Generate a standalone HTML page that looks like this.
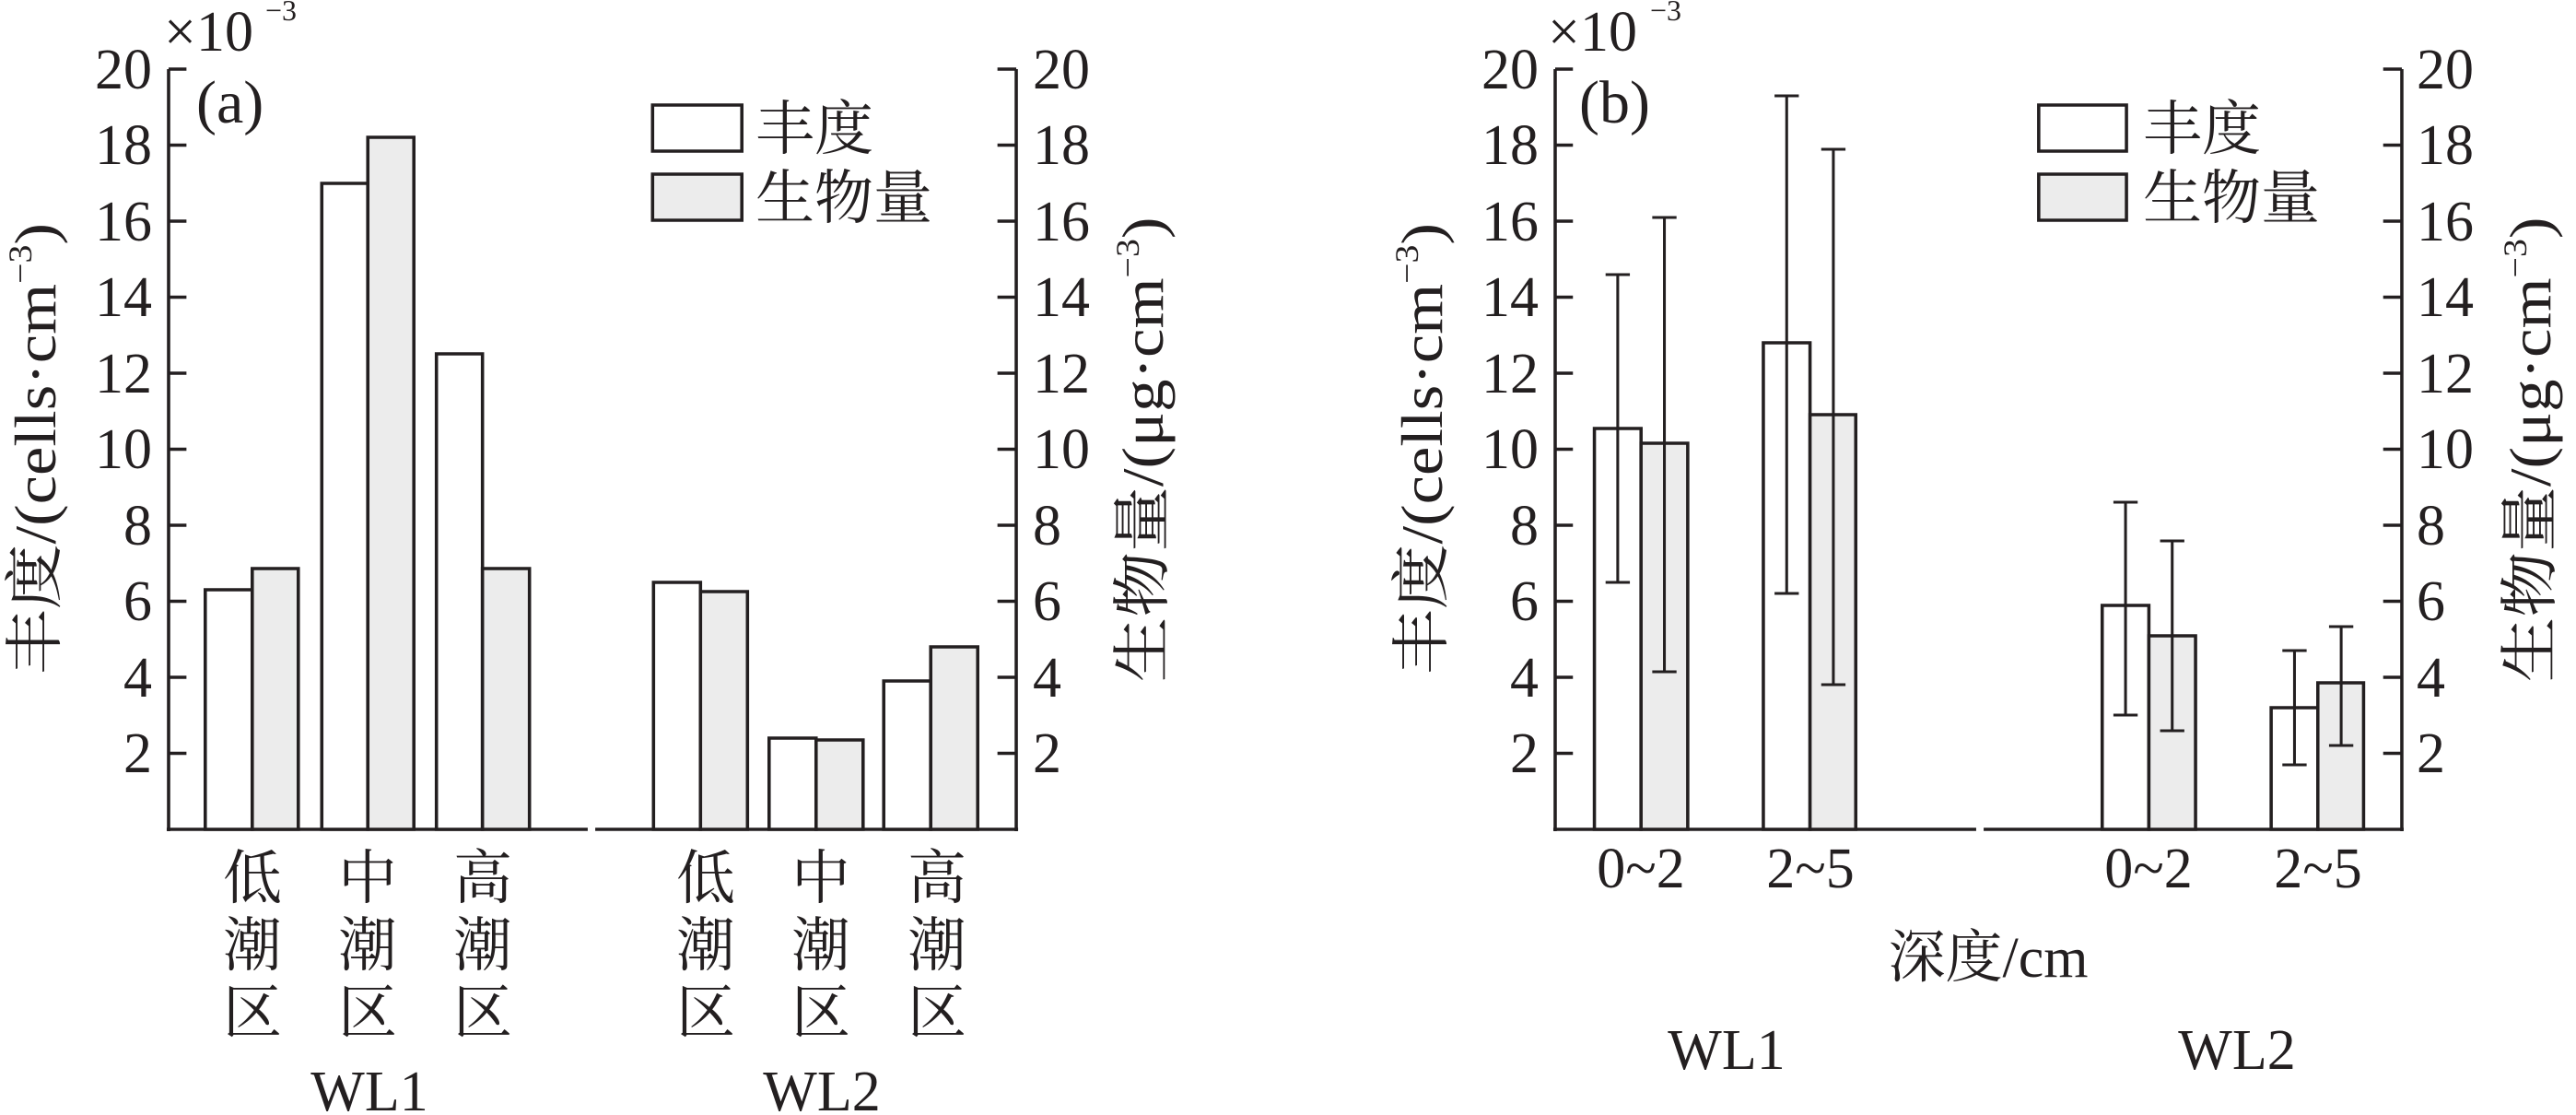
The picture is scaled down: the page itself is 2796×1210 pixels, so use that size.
<!DOCTYPE html>
<html><head><meta charset="utf-8"><style>
html,body{margin:0;padding:0;background:#fff;}
svg{display:block;}
text{font-family:"Liberation Serif","Noto Serif CJK SC",serif;fill:#231f20;}
</style></head><body>
<svg width="2796" height="1210" viewBox="0 0 2796 1210" xmlns="http://www.w3.org/2000/svg">
<!-- Panel a shapes -->
<g transform="translate(183,0) scale(1.02,1) translate(-180,0)">
<g stroke="#231f20" stroke-width="3.5" fill="none">
<line x1="180" y1="75" x2="180" y2="902"/>
<line x1="1082" y1="75" x2="1082" y2="902"/>
<line x1="178" y1="900" x2="626" y2="900"/>
<line x1="634" y1="900" x2="1084" y2="900"/>
</g>
<g stroke="#231f20" stroke-width="3.5">
<line x1="180" y1="75" x2="199" y2="75"/><line x1="180" y1="157.5" x2="199" y2="157.5"/><line x1="180" y1="240" x2="199" y2="240"/><line x1="180" y1="322.5" x2="199" y2="322.5"/><line x1="180" y1="405" x2="199" y2="405"/><line x1="180" y1="487.5" x2="199" y2="487.5"/><line x1="180" y1="570" x2="199" y2="570"/><line x1="180" y1="652.5" x2="199" y2="652.5"/><line x1="180" y1="735" x2="199" y2="735"/><line x1="180" y1="817.5" x2="199" y2="817.5"/>
<line x1="1062" y1="75" x2="1082" y2="75"/><line x1="1062" y1="157.5" x2="1082" y2="157.5"/><line x1="1062" y1="240" x2="1082" y2="240"/><line x1="1062" y1="322.5" x2="1082" y2="322.5"/><line x1="1062" y1="405" x2="1082" y2="405"/><line x1="1062" y1="487.5" x2="1082" y2="487.5"/><line x1="1062" y1="570" x2="1082" y2="570"/><line x1="1062" y1="652.5" x2="1082" y2="652.5"/><line x1="1062" y1="735" x2="1082" y2="735"/><line x1="1062" y1="817.5" x2="1082" y2="817.5"/>
<rect x="219" y="640" width="50" height="260" fill="#fff"/>
<rect x="269" y="617" width="49" height="283" fill="#ececec"/>
<rect x="343" y="199" width="49" height="701" fill="#fff"/>
<rect x="392" y="149" width="49" height="751" fill="#ececec"/>
<rect x="465" y="384" width="49" height="516" fill="#fff"/>
<rect x="514" y="617" width="50" height="283" fill="#ececec"/>
<rect x="696" y="632" width="50" height="268" fill="#fff"/>
<rect x="746" y="642" width="50" height="258" fill="#ececec"/>
<rect x="819" y="801" width="50" height="99" fill="#fff"/>
<rect x="869" y="803" width="50" height="97" fill="#ececec"/>
<rect x="941" y="739" width="50" height="161" fill="#fff"/>
<rect x="991" y="702" width="50" height="198" fill="#ececec"/>
<rect x="695" y="114" width="95" height="50" fill="#fff"/>
<rect x="695" y="189" width="95" height="50" fill="#ececec"/>
</g>
</g>
<!-- Panel b shapes -->
<g transform="translate(1688,0) scale(1.0132,1) translate(-1680,0)">
<g stroke="#231f20" stroke-width="3.5" fill="none">
<line x1="1680" y1="75" x2="1680" y2="902"/>
<line x1="2587" y1="75" x2="2587" y2="902"/>
<line x1="1678" y1="900" x2="2131" y2="900"/>
<line x1="2139" y1="900" x2="2589" y2="900"/>
</g>
<g stroke="#231f20" stroke-width="3.5">
<line x1="1680" y1="75" x2="1699" y2="75"/><line x1="1680" y1="157.5" x2="1699" y2="157.5"/><line x1="1680" y1="240" x2="1699" y2="240"/><line x1="1680" y1="322.5" x2="1699" y2="322.5"/><line x1="1680" y1="405" x2="1699" y2="405"/><line x1="1680" y1="487.5" x2="1699" y2="487.5"/><line x1="1680" y1="570" x2="1699" y2="570"/><line x1="1680" y1="652.5" x2="1699" y2="652.5"/><line x1="1680" y1="735" x2="1699" y2="735"/><line x1="1680" y1="817.5" x2="1699" y2="817.5"/>
<line x1="2567" y1="75" x2="2587" y2="75"/><line x1="2567" y1="157.5" x2="2587" y2="157.5"/><line x1="2567" y1="240" x2="2587" y2="240"/><line x1="2567" y1="322.5" x2="2587" y2="322.5"/><line x1="2567" y1="405" x2="2587" y2="405"/><line x1="2567" y1="487.5" x2="2587" y2="487.5"/><line x1="2567" y1="570" x2="2587" y2="570"/><line x1="2567" y1="652.5" x2="2587" y2="652.5"/><line x1="2567" y1="735" x2="2587" y2="735"/><line x1="2567" y1="817.5" x2="2587" y2="817.5"/>
<rect x="1722" y="465" width="50" height="435" fill="#fff"/>
<rect x="1772" y="481" width="50" height="419" fill="#ececec"/>
<rect x="1903" y="372" width="50" height="528" fill="#fff"/>
<rect x="1953" y="450" width="49" height="450" fill="#ececec"/>
<rect x="2266" y="657" width="50" height="243" fill="#fff"/>
<rect x="2316" y="690" width="50" height="210" fill="#ececec"/>
<rect x="2447" y="768" width="50" height="132" fill="#fff"/>
<rect x="2497" y="741" width="49" height="159" fill="#ececec"/>
<rect x="2198" y="114" width="94" height="50" fill="#fff"/>
<rect x="2198" y="189" width="94" height="50" fill="#ececec"/>
</g>
<g stroke="#231f20" stroke-width="3">
<line x1="1747" y1="298" x2="1747" y2="632"/><line x1="1734" y1="298" x2="1760" y2="298"/><line x1="1734" y1="632" x2="1760" y2="632"/>
<line x1="1797" y1="236" x2="1797" y2="729"/><line x1="1784" y1="236" x2="1810" y2="236"/><line x1="1784" y1="729" x2="1810" y2="729"/>
<line x1="1928" y1="104" x2="1928" y2="644"/><line x1="1915" y1="104" x2="1941" y2="104"/><line x1="1915" y1="644" x2="1941" y2="644"/>
<line x1="1978" y1="162" x2="1978" y2="743"/><line x1="1965" y1="162" x2="1991" y2="162"/><line x1="1965" y1="743" x2="1991" y2="743"/>
<line x1="2291" y1="545" x2="2291" y2="776"/><line x1="2278" y1="545" x2="2304" y2="545"/><line x1="2278" y1="776" x2="2304" y2="776"/>
<line x1="2341" y1="587" x2="2341" y2="793"/><line x1="2328" y1="587" x2="2354" y2="587"/><line x1="2328" y1="793" x2="2354" y2="793"/>
<line x1="2472" y1="706" x2="2472" y2="830"/><line x1="2459" y1="706" x2="2485" y2="706"/><line x1="2459" y1="830" x2="2485" y2="830"/>
<line x1="2522" y1="680" x2="2522" y2="809"/><line x1="2509" y1="680" x2="2535" y2="680"/><line x1="2509" y1="809" x2="2535" y2="809"/>
</g>
</g>
<!-- tick labels -->
<g font-size="62" text-anchor="end">
<text x="165" y="96">20</text><text x="165" y="178">18</text><text x="165" y="261">16</text><text x="165" y="343">14</text><text x="165" y="426">12</text><text x="165" y="508">10</text><text x="165" y="591">8</text><text x="165" y="673">6</text><text x="165" y="756">4</text><text x="165" y="838">2</text>
<text x="1670" y="96">20</text><text x="1670" y="178">18</text><text x="1670" y="261">16</text><text x="1670" y="343">14</text><text x="1670" y="426">12</text><text x="1670" y="508">10</text><text x="1670" y="591">8</text><text x="1670" y="673">6</text><text x="1670" y="756">4</text><text x="1670" y="838">2</text>
</g>
<g font-size="62" text-anchor="start">
<text x="1121" y="96">20</text><text x="1121" y="178">18</text><text x="1121" y="261">16</text><text x="1121" y="343">14</text><text x="1121" y="426">12</text><text x="1121" y="508">10</text><text x="1121" y="591">8</text><text x="1121" y="673">6</text><text x="1121" y="756">4</text><text x="1121" y="838">2</text>
<text x="2623" y="96">20</text><text x="2623" y="178">18</text><text x="2623" y="261">16</text><text x="2623" y="343">14</text><text x="2623" y="426">12</text><text x="2623" y="508">10</text><text x="2623" y="591">8</text><text x="2623" y="673">6</text><text x="2623" y="756">4</text><text x="2623" y="838">2</text>
</g>
<!-- multipliers -->
<text x="178" y="55" font-size="62">×10</text><text x="288" y="22" font-size="32">−3</text>
<text x="1680" y="55" font-size="62">×10</text><text x="1791" y="22" font-size="32">−3</text>
<text x="213" y="133" font-size="66">(a)</text>
<text x="1714" y="133" font-size="66">(b)</text>
<!-- legend text -->
<g font-size="64">
<text x="820" y="162">丰度</text><text x="820" y="237">生物量</text>
<text x="2326" y="162">丰度</text><text x="2326" y="237">生物量</text>
</g>
<!-- y labels -->
<g font-size="64">
<text transform="translate(60,487) rotate(-90)" text-anchor="middle" textLength="490" lengthAdjust="spacingAndGlyphs">丰度/(cells·cm<tspan font-size="36" dy="-26">−3</tspan><tspan dy="26">)</tspan></text>
<text transform="translate(1262,488) rotate(-90)" text-anchor="middle" textLength="505" lengthAdjust="spacingAndGlyphs">生物量/(μg·cm<tspan font-size="36" dy="-26">−3</tspan><tspan dy="26">)</tspan></text>
<text transform="translate(1565,487) rotate(-90)" text-anchor="middle" textLength="490" lengthAdjust="spacingAndGlyphs">丰度/(cells·cm<tspan font-size="36" dy="-26">−3</tspan><tspan dy="26">)</tspan></text>
<text transform="translate(2768,488) rotate(-90)" text-anchor="middle" textLength="505" lengthAdjust="spacingAndGlyphs">生物量/(μg·cm<tspan font-size="36" dy="-26">−3</tspan><tspan dy="26">)</tspan></text>
</g>
<!-- category labels a -->
<g font-size="64" text-anchor="middle">
<text x="274" y="975">低</text><text x="274" y="1048">潮</text><text x="274" y="1121">区</text>
<text x="399" y="975">中</text><text x="399" y="1048">潮</text><text x="399" y="1121">区</text>
<text x="524" y="975">高</text><text x="524" y="1048">潮</text><text x="524" y="1121">区</text>
<text x="766" y="975">低</text><text x="766" y="1048">潮</text><text x="766" y="1121">区</text>
<text x="891" y="975">中</text><text x="891" y="1048">潮</text><text x="891" y="1121">区</text>
<text x="1017" y="975">高</text><text x="1017" y="1048">潮</text><text x="1017" y="1121">区</text>
</g>
<g font-size="62" text-anchor="middle">
<text x="401" y="1205">WL1</text><text x="892" y="1205">WL2</text>
<text x="1781" y="963">0~2</text><text x="1965" y="963">2~5</text>
<text x="2332" y="963">0~2</text><text x="2516" y="963">2~5</text>
<text x="2158" y="1060">深度/cm</text>
<text x="1874" y="1160">WL1</text><text x="2428" y="1160">WL2</text>
</g>
</svg>
</body></html>
